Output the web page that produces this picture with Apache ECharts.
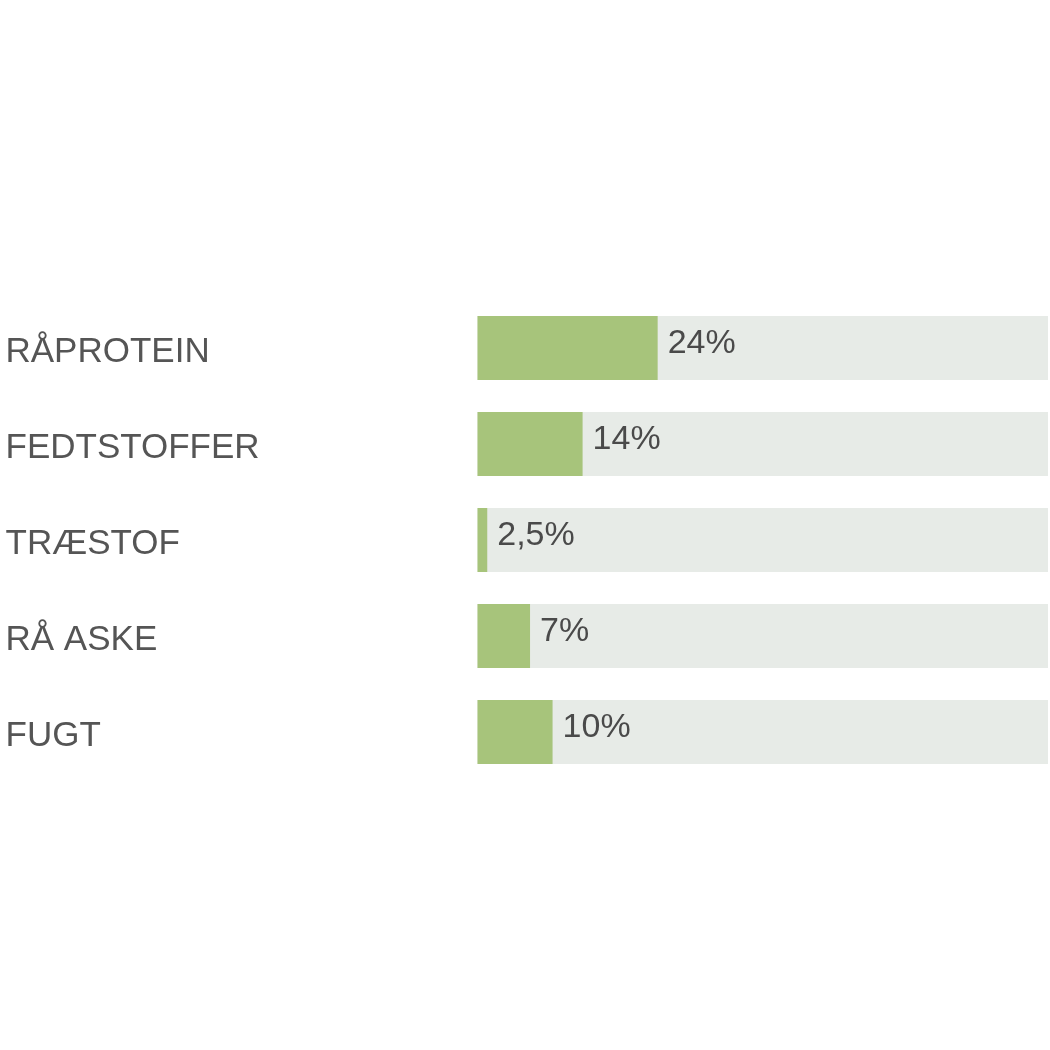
<!DOCTYPE html>
<html>
<head>
<meta charset="utf-8">
<style>html,body{margin:0;padding:0;background:#fff;}#c{width:1050px;height:1050px;}</style>
<script src="https://cdn.jsdelivr.net/npm/echarts@6/dist/echarts.min.js"></script>
</head>
<body>
<div id="c"></div>
<script>
var categories = ['RÅPROTEIN', 'FEDTSTOFFER', 'TRÆSTOF', 'RÅ ASKE', 'FUGT'];
var barValues = [24, 14, 1.3, 7, 10];
var valueLabels = ['24%', '14%', '2,5%', '7%', '10%'];
var axisMax = 76;

var chart = echarts.init(document.getElementById('c'));
chart.setOption({
  animation: false,
  backgroundColor: '#ffffff',
  grid: { left: 477.5, right: 2, top: 300, bottom: 270 },
  xAxis: { type: 'value', min: 0, max: axisMax, show: false },
  yAxis: {
    type: 'category',
    data: categories,
    inverse: true,
    axisLine: { show: false },
    axisTick: { show: false },
    splitLine: { show: false },
    axisLabel: {
      align: 'left',
      verticalAlign: 'top',
      lineHeight: 8,
      margin: 472,
      fontFamily: 'Liberation Sans, Arial, sans-serif',
      fontSize: 35,
      color: '#555555'
    }
  },
  series: [{
    type: 'bar',
    data: barValues,
    barWidth: 64,
    showBackground: true,
    backgroundStyle: { color: '#e7ebe7' },
    itemStyle: { color: '#a7c47b' },
    label: {
      show: true,
      position: 'right',
      distance: 10,
      offset: [0, -4],
      fontFamily: 'Liberation Sans, Arial, sans-serif',
      fontSize: 34,
      color: '#4a4a4a',
      formatter: function (p) { return valueLabels[p.dataIndex]; }
    }
  }]
});
</script>
</body>
</html>
